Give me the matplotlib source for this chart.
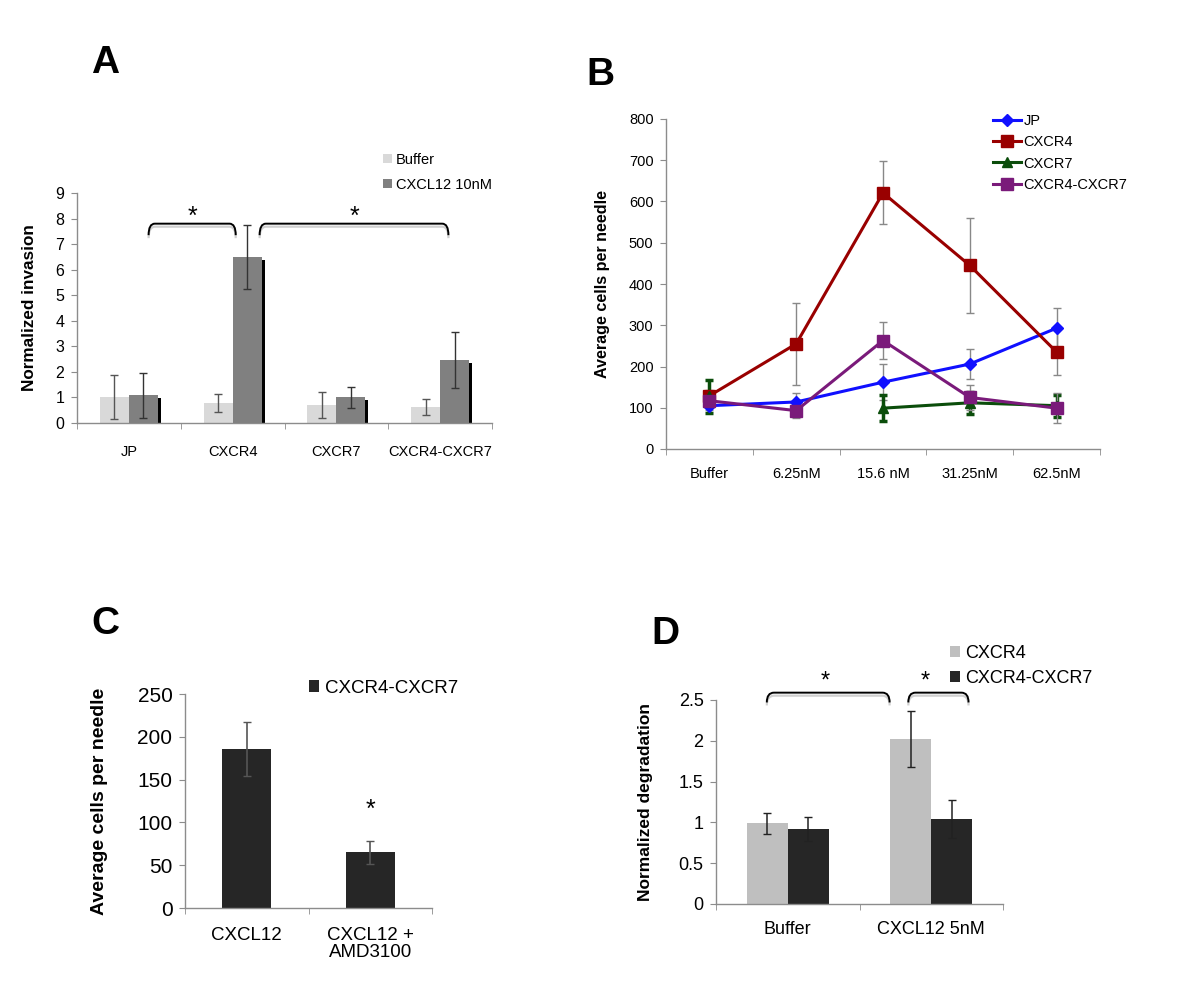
import matplotlib

matplotlib.use("Agg")
import matplotlib.pyplot as plt
import numpy as np
from matplotlib import transforms
from matplotlib.path import Path
from matplotlib.patches import PathPatch

plt.rcParams["font.family"] = ["Liberation Sans", "DejaVu Sans"]

W, H = 1200, 999

# Panel A - invasion
a_groups = ["JP", "CXCR4", "CXCR7", "CXCR4-CXCR7"]
a_buffer = [1.0, 0.78, 0.70, 0.62]
a_buffer_err = [0.86, 0.34, 0.50, 0.31]
a_cxcl = [1.08, 6.49, 1.00, 2.47]
a_cxcl_err = [0.89, 1.24, 0.41, 1.10]

# Panel B - dose response
b_doses = ["Buffer", "6.25nM", "15.6 nM", "31.25nM", "62.5nM"]
b_jp = [105, 114, 162, 206, 293]
b_jp_err = [10, 22, 44, 37, 49]
b_cxcr4 = [129, 255, 621, 445, 235]
b_cxcr4_err = [15, 99, 76, 116, 55]
b_cxcr7 = [128, np.nan, 99, 112, 105]
b_cxcr7_err = [40, np.nan, 31, 26, 27]
b_dual = [117, 93, 263, 125, 99]
b_dual_err = [10, 18, 45, 30, 37]

# Panel C - AMD3100
c_groups = ["CXCL12", "CXCL12 +\nAMD3100"]
c_vals = [185.7, 65]
c_err = [32, 13.5]

# Panel D - degradation
d_groups = ["Buffer", "CXCL12 5nM"]
d_cxcr4 = [0.99, 2.02]
d_cxcr4_err = [0.13, 0.34]
d_dual = [0.92, 1.04]
d_dual_err = [0.15, 0.23]


def add_ax(fig, x0, y0, x1, y1):
    return fig.add_axes([x0 / W, 1 - y1 / H, (x1 - x0) / W, (y1 - y0) / H])


def style(ax, ncat, tick_size, xlab_size, xpad):
    for s in ("top", "right"):
        ax.spines[s].set_visible(False)
    for s in ("left", "bottom"):
        ax.spines[s].set_color("#8c8c8c")
        ax.spines[s].set_linewidth(1.0)
    ax.set_xlim(-0.5, ncat - 0.5)
    ax.set_xticks(range(ncat))
    ax.set_xticks(np.arange(-0.5, ncat, 1.0), minor=True)
    ax.tick_params(axis="x", which="major", length=0, labelsize=xlab_size, pad=xpad)
    ax.tick_params(axis="x", which="minor", length=4, color="#8c8c8c", direction="out")
    ax.tick_params(axis="y", length=4, color="#8c8c8c", labelsize=tick_size, pad=5)


def brace(ax, x0, x1, ylow, ytop, dx):
    verts = [(x0, ylow), (x0, ytop), (x0 + dx, ytop), (x1 - dx, ytop),
             (x1, ytop), (x1, ylow)]
    codes = [Path.MOVETO, Path.CURVE3, Path.CURVE3, Path.LINETO,
             Path.CURVE3, Path.CURVE3]
    p = Path(verts, codes)
    shade = transforms.offset_copy(ax.transData, fig=ax.figure, x=0, y=-3, units="dots")
    ax.add_patch(PathPatch(p, fill=False, edgecolor="#d0d0d0", lw=1.6,
                           transform=shade, clip_on=False))
    ax.add_patch(PathPatch(p, fill=False, edgecolor="black", lw=1.4, clip_on=False))


fig = plt.figure(figsize=(W / 100, H / 100), dpi=100)

# ---------------- A ----------------
ax = add_ax(fig, 77, 193, 492, 423)
x = np.arange(len(a_groups))
bw = 0.28
ax.bar(x - bw / 2, a_buffer, bw, color="#d9d9d9", label="Buffer", zorder=2)
shadow = ax.bar(x + bw / 2, a_cxcl, bw, color="black", zorder=1)
off = transforms.offset_copy(ax.transData, fig=fig, x=3, y=-3, units="dots")
for p in shadow:
    p.set_transform(off)
ax.bar(x + bw / 2, a_cxcl, bw, color="#808080", label="CXCL12 10nM", zorder=3)
ax.errorbar(x - bw / 2, a_buffer, yerr=a_buffer_err, fmt="none", ecolor="#555555",
            elinewidth=1, capsize=3, zorder=4)
ax.errorbar(x + bw / 2, a_cxcl, yerr=a_cxcl_err, fmt="none", ecolor="#333333",
            elinewidth=1, capsize=3, zorder=4)
style(ax, len(a_groups), 11.5, 10.5, 16)
ax.set_xticklabels(a_groups)
ax.set_ylim(0, 9)
ax.set_yticks(range(10))
ax.set_ylabel("Normalized invasion", fontsize=12.3, fontweight="bold")
ax.yaxis.set_label_coords(-0.096, 0.5)
brace(ax, 0.19, 1.03, 7.35, 7.8, 0.06)
brace(ax, 1.26, 3.08, 7.35, 7.8, 0.06)
ax.text(0.61, 8.05, "*", ha="center", va="center", fontsize=18)
ax.text(2.17, 8.05, "*", ha="center", va="center", fontsize=18)
ax.legend(loc="upper left", bbox_to_anchor=(383 / W, 1 - 153 / H),
          bbox_transform=fig.transFigure, frameon=False, fontsize=10.5,
          handlelength=0.6, handleheight=0.6, handletextpad=0.3, labelspacing=0.75,
          borderaxespad=0, borderpad=0)
fig.text(105 / W, 1 - 63 / H, "A", fontsize=28, fontweight="bold", ha="center", va="center")

# ---------------- B ----------------
ax = add_ax(fig, 666, 119, 1100, 449)
x = np.arange(len(b_doses))
series = [
    (b_jp, b_jp_err, "#1010ff", "D", 6, "JP", "#888888", 1.0),
    (b_cxcr4, b_cxcr4_err, "#990000", "s", 8, "CXCR4", "#888888", 1.0),
    (b_cxcr7, b_cxcr7_err, "#0b4d0b", "^", 7, "CXCR7", "#0b4d0b", 2.5),
    (b_dual, b_dual_err, "#7a1a7a", "s", 8, "CXCR4-CXCR7", "#888888", 1.0),
]
for vals, err, col, mk, ms, lab, ecol, elw in series:
    ax.errorbar(x, vals, yerr=err, fmt="none", ecolor=ecol, elinewidth=elw,
                capsize=3, capthick=elw, zorder=2)
for vals, err, col, mk, ms, lab, ecol, elw in series:
    ax.plot(x, vals, color=col, marker=mk, markersize=ms, lw=2.2, label=lab, zorder=3)
style(ax, len(b_doses), 10.5, 10.5, 13)
ax.set_xticklabels(b_doses)
ax.set_ylim(0, 800)
ax.set_yticks(range(0, 801, 100))
ax.set_ylabel("Average cells per needle", fontsize=11.6, fontweight="bold")
ax.yaxis.set_label_coords(-0.129, 0.5)
ax.legend(loc="upper left", bbox_to_anchor=(993 / W, 1 - 114 / H),
          bbox_transform=fig.transFigure, frameon=False, fontsize=10.5,
          handlelength=1.9, handletextpad=0.2, labelspacing=0.5,
          borderaxespad=0, borderpad=0)
fig.text(600 / W, 1 - 75 / H, "B", fontsize=28, fontweight="bold", ha="center", va="center")

# ---------------- C ----------------
ax = add_ax(fig, 185, 694, 432, 908)
x = np.arange(len(c_groups))
ax.bar(x, c_vals, 0.4, color="#262626", label="CXCR4-CXCR7", zorder=2)
ax.errorbar(x, c_vals, yerr=c_err, fmt="none", ecolor="#555555", elinewidth=1.2,
            capsize=3, zorder=3)
style(ax, len(c_groups), 15, 13.5, 14)
ax.set_xticklabels(c_groups, linespacing=1.0)
ax.set_ylim(0, 250)
ax.set_yticks(range(0, 251, 50))
ax.set_ylabel("Average cells per needle", fontsize=14, fontweight="bold")
ax.yaxis.set_label_coords(-0.31, 0.5)
ax.text(1, 115, "*", ha="center", va="center", fontsize=18)
ax.legend(loc="upper left", bbox_to_anchor=(309 / W, 1 - 680 / H),
          bbox_transform=fig.transFigure, frameon=False, fontsize=13.5,
          handlelength=0.55, handleheight=0.6, handletextpad=0.3,
          borderaxespad=0, borderpad=0)
fig.text(105 / W, 1 - 624 / H, "C", fontsize=28, fontweight="bold", ha="center", va="center")

# ---------------- D ----------------
ax = add_ax(fig, 716, 700, 1003, 904)
x = np.arange(len(d_groups))
bw = 0.285
ax.bar(x - bw / 2, d_cxcr4, bw, color="#bfbfbf", label="CXCR4", zorder=2)
ax.bar(x + bw / 2, d_dual, bw, color="#262626", label="CXCR4-CXCR7", zorder=2)
ax.errorbar(x - bw / 2, d_cxcr4, yerr=d_cxcr4_err, fmt="none", ecolor="#222222",
            elinewidth=1.1, capsize=3, zorder=3)
ax.errorbar(x + bw / 2, d_dual, yerr=d_dual_err, fmt="none", ecolor="#222222",
            elinewidth=1.1, capsize=3, zorder=3)
style(ax, len(d_groups), 13, 13, 12)
ax.set_xticklabels(d_groups)
ax.set_ylim(0, 2.5)
ax.set_yticks(np.arange(0, 2.51, 0.5))
ax.yaxis.set_major_formatter(matplotlib.ticker.StrMethodFormatter("{x:g}"))
ax.set_ylabel("Normalized degradation", fontsize=12.5, fontweight="bold")
ax.yaxis.set_label_coords(-0.22, 0.5)
brace(ax, -0.146, 0.71, 2.47, 2.59, 0.05)
brace(ax, 0.84, 1.26, 2.47, 2.59, 0.05)
ax.text(0.26, 2.73, "*", ha="center", va="center", fontsize=17)
ax.text(0.96, 2.73, "*", ha="center", va="center", fontsize=17)
ax.legend(loc="upper left", bbox_to_anchor=(950 / W, 1 - 645 / H),
          bbox_transform=fig.transFigure, frameon=False, fontsize=13,
          handlelength=0.55, handleheight=0.6, handletextpad=0.3, labelspacing=0.45,
          borderaxespad=0, borderpad=0)
fig.text(665 / W, 1 - 634 / H, "D", fontsize=28, fontweight="bold", ha="center", va="center")

fig.savefig("out.png", dpi=100)
